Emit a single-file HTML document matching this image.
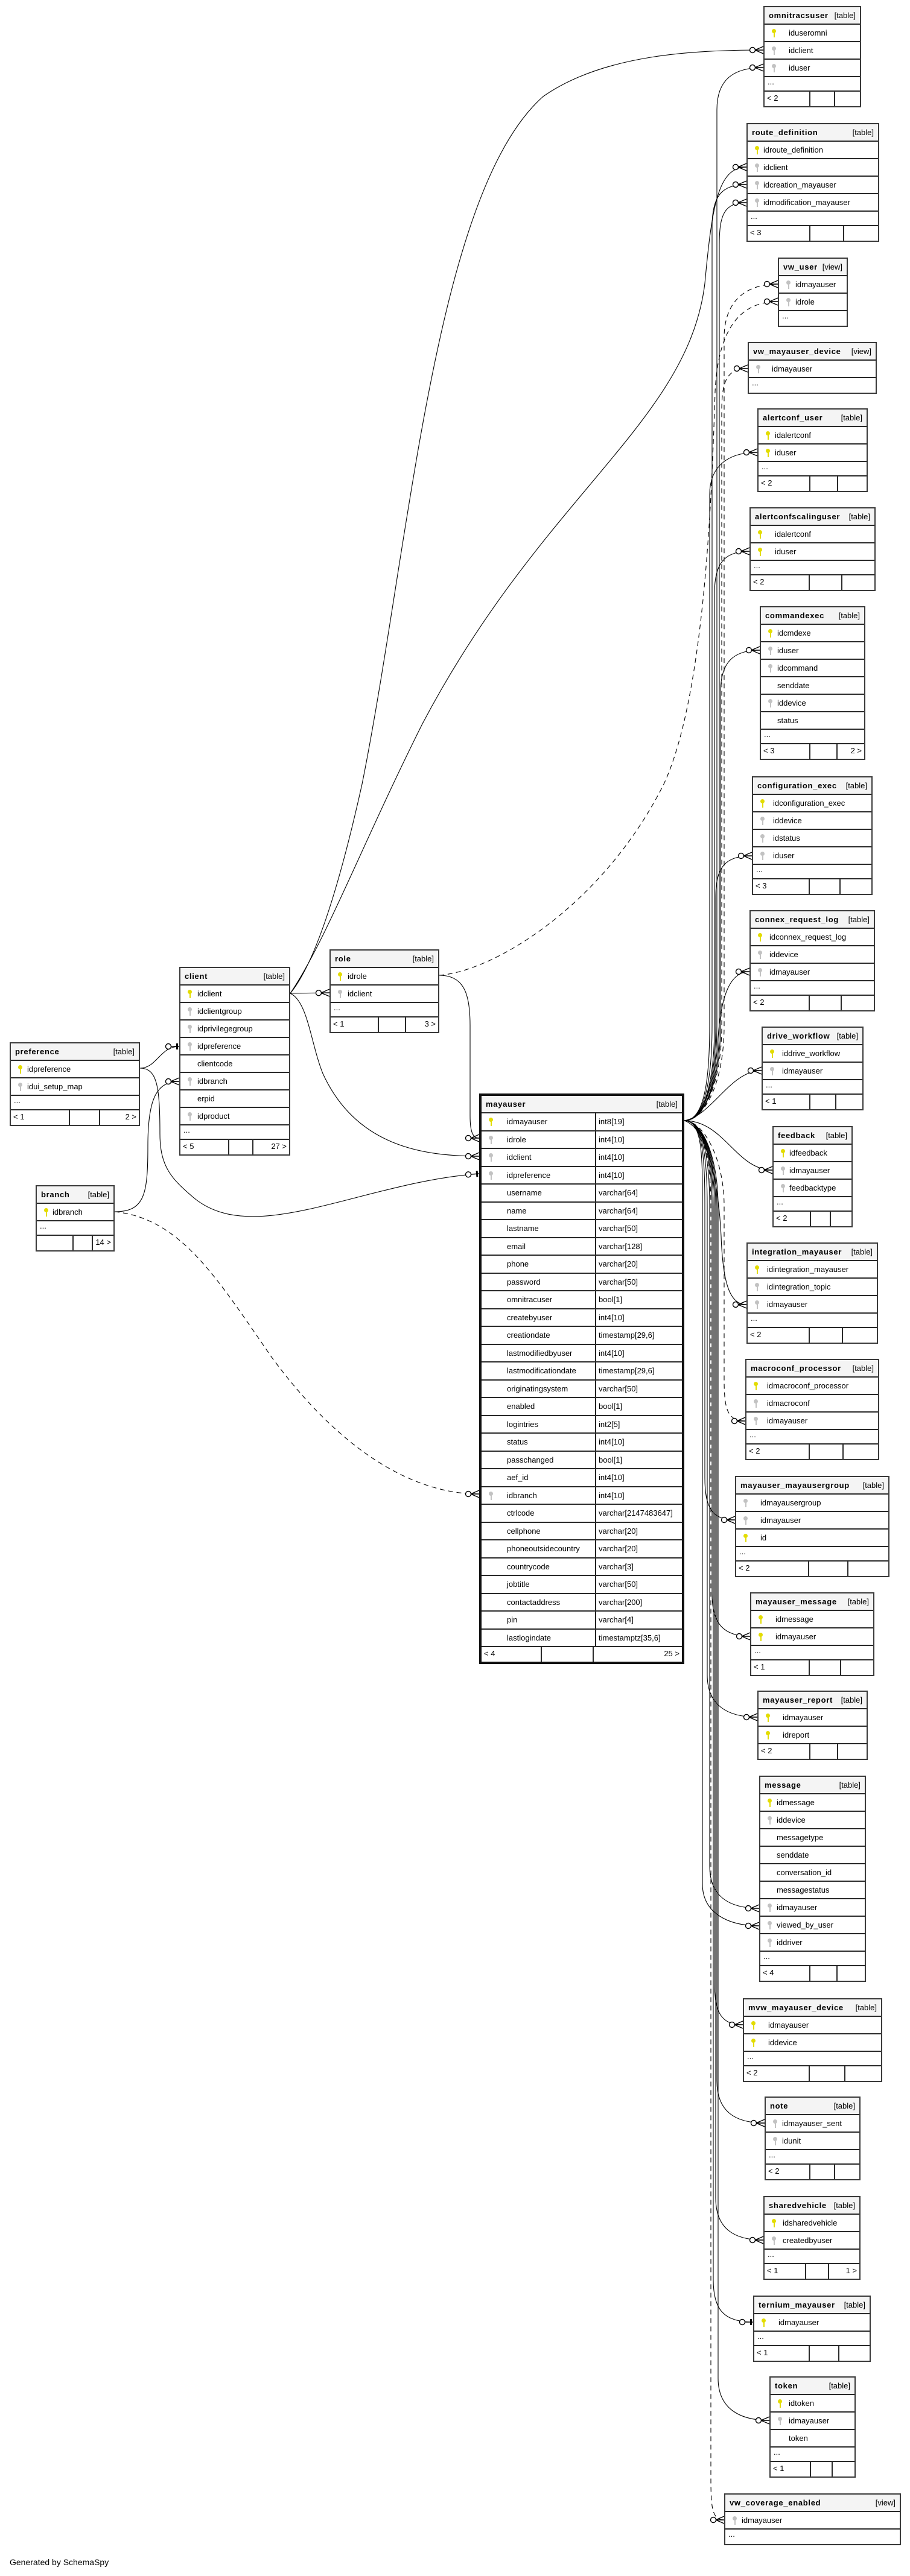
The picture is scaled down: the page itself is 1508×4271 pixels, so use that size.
<!DOCTYPE html>
<html><head><meta charset="utf-8">
<style>
html,body{margin:0;padding:0;background:#fff}
body{width:1508px;height:4271px;position:relative;overflow:hidden}
svg.ln{position:absolute;left:0;top:0}
.t{position:absolute;background:#fff;border:2px solid #3a3a3a;box-sizing:border-box;font:13px "Liberation Sans","DejaVu Sans",sans-serif;color:#000;z-index:2}
.t>div{box-sizing:border-box;border-bottom:2px solid #2a2a2a;position:relative;white-space:nowrap;overflow:hidden}
.t>div:last-child{border-bottom:none}
.h{height:29px;background:#f4f4f4;padding:0 7px;line-height:27px}
.h b{float:left;letter-spacing:.7px}
.h span{float:right}
.r{height:29px;line-height:27px;padding-left:var(--i,30px)}
.d{height:24px;line-height:16px;padding-left:5px}
.f{height:24px;display:flex;line-height:22px}
.f i{font-style:normal;border-right:2px solid #2a2a2a;padding:0 4px;box-sizing:border-box;width:48%}
.f i+i{width:26%}
.f i+i+i{border-right:none;flex:1;width:auto;text-align:right}
.k{position:absolute;left:12px;top:7px;width:7px;height:7px;border-radius:50%}
.k:after{content:"";position:absolute;left:2.5px;top:5px;width:2px;height:9px;background:inherit}
.p{background:#e3dc00}.g{background:#c2c2c2}
.m{border:4px solid #111}
.m .r{height:29.5px;padding-left:42px}
.m .r s{text-decoration:none;position:absolute;left:188px;top:0;bottom:0;border-left:2px solid #222;padding-left:4px}
.gen{position:absolute;left:16px;top:4240px;font:14px "Liberation Sans",sans-serif}
</style></head><body>

<svg class="ln" width="1508" height="4271" viewBox="0 0 1508 4271">
<defs>
<marker id="c" markerUnits="userSpaceOnUse" markerWidth="26" markerHeight="18" viewBox="0 -9 26 18" refX="24" refY="0" orient="auto">
<path d="M10,0 L24,0 M10,0 L24,-6 M10,0 L24,6" stroke="#000" stroke-width="1.4" fill="none"/>
<circle cx="6" cy="0" r="4.5" fill="#fff" stroke="#000" stroke-width="1.4"/>
</marker>
<marker id="o" markerUnits="userSpaceOnUse" markerWidth="26" markerHeight="18" viewBox="0 -9 26 18" refX="24" refY="0" orient="auto">
<path d="M10,0 L24,0" stroke="#000" stroke-width="1.4"/>
<rect x="19" y="-5" width="3" height="10" fill="#000"/>
<circle cx="6" cy="0" r="4.5" fill="#fff" stroke="#000" stroke-width="1.4"/>
</marker>
</defs>
<g fill="none" stroke="#000" stroke-width="1.1">
<path marker-end="url(#c)" d="M481,1647 C520,1600 560,1480 600,1300 C680,900 720,320 900,160 C1000,90 1150,83 1265,83"/>
<path marker-end="url(#c)" d="M481,1647 C540,1560 600,1400 700,1200 C900,820 1140,700 1168,470 C1180,340 1190,277 1237,277"/>
<path marker-end="url(#c)" d="M481,1647 L546,1646"/>
<path marker-end="url(#c)" d="M481,1647 C510,1660 515,1730 535,1780 C590,1900 700,1917 794,1917"/>
<path marker-end="url(#c)" d="M728,1617 C770,1617 779,1650 779,1700 L779,1850 C779,1878 784,1887 794,1887"/>
<path marker-end="url(#c)" stroke-dasharray="8,6" d="M728,1617 C820,1610 1000,1500 1100,1300 C1170,1150 1180,800 1185,650 C1190,540 1230,500 1289,500"/>
<path marker-end="url(#o)" d="M232,1771 C260,1771 265,1735 297,1735"/>
<path marker-end="url(#o)" d="M232,1771 C260,1771 265,1800 265,1880 C265,1935 285,1955 320,1985 C420,2070 600,1960 794,1946"/>
<path marker-end="url(#c)" d="M190,2009 C240,2009 245,1980 245,1900 C245,1820 260,1793 297,1793"/>
<path marker-end="url(#c)" stroke-dasharray="8,6" d="M190,2009 C300,2020 360,2120 450,2250 C560,2400 680,2477 794,2477"/>
<path marker-end="url(#c)" d="M1134,1858 C1165,1858 1188,1800 1188,1700 L1188,182 C1188,132 1215,112 1265,112"/>
<path marker-end="url(#c)" d="M1134,1858 C1165,1858 1180,1800 1180,1700 L1180,376 C1180,326 1195,306 1237,306"/>
<path marker-end="url(#c)" d="M1134,1858 C1165,1858 1192,1800 1192,1700 L1192,406 C1192,356 1200,336 1237,336"/>
<path marker-end="url(#c)" stroke-dasharray="8,6" d="M1134,1858 C1165,1858 1200,1800 1200,1700 L1200,560 C1200,500 1235,471 1289,471"/>
<path marker-end="url(#c)" stroke-dasharray="8,6" d="M1134,1858 C1165,1858 1196,1800 1196,1700 L1196,681 C1196,631 1205,611 1239,611"/>
<path marker-end="url(#c)" d="M1134,1858 C1165,1858 1176,1800 1176,1700 L1176,820 C1176,770 1210,750 1255,750"/>
<path marker-end="url(#c)" d="M1134,1858 C1165,1858 1184,1800 1184,1700 L1184,984 C1184,934 1200,914 1242,914"/>
<path marker-end="url(#c)" d="M1134,1858 C1165,1858 1194,1800 1194,1700 L1194,1148 C1194,1098 1215,1078 1259,1078"/>
<path marker-end="url(#c)" d="M1134,1858 C1165,1858 1186,1800 1186,1700 L1186,1489 C1186,1439 1200,1419 1246,1419"/>
<path marker-end="url(#c)" d="M1134,1858 C1170,1858 1185,1800 1190,1720 C1195,1650 1210,1611 1242,1611"/>
<path marker-end="url(#c)" d="M1134,1858 C1180,1850 1210,1775 1262,1775"/>
<path marker-end="url(#c)" d="M1134,1858 C1200,1858 1220,1940 1280,1940"/>
<path marker-end="url(#c)" d="M1134,1858 C1170,1870 1190,1950 1195,2050 C1198,2130 1210,2163 1237,2163"/>
<path marker-end="url(#c)" stroke-dasharray="8,6" d="M1134,1858 C1165,1858 1200,1920 1200,2000 L1200,2286 C1200,2336 1205,2356 1235,2356"/>
<path marker-end="url(#c)" d="M1134,1858 C1165,1858 1168,1920 1168,2000 L1168,2450 C1168,2500 1180,2520 1218,2520"/>
<path marker-end="url(#c)" d="M1134,1858 C1165,1858 1180,1920 1180,2000 L1180,2643 C1180,2693 1200,2713 1243,2713"/>
<path marker-end="url(#c)" d="M1134,1858 C1165,1858 1172,1920 1172,2000 L1172,2777 C1172,2827 1205,2847 1255,2847"/>
<path marker-end="url(#c)" d="M1134,1858 C1165,1858 1176,1920 1176,2000 L1176,3094 C1176,3144 1208,3164 1258,3164"/>
<path marker-end="url(#c)" d="M1134,1858 C1165,1858 1164,1920 1164,2000 L1164,3123 C1164,3173 1208,3193 1258,3193"/>
<path marker-end="url(#c)" d="M1134,1858 C1165,1858 1184,1920 1184,2000 L1184,3287 C1184,3337 1195,3357 1231,3357"/>
<path marker-end="url(#c)" d="M1134,1858 C1165,1858 1188,1920 1188,2000 L1188,3450 C1188,3500 1217,3520 1267,3520"/>
<path marker-end="url(#c)" d="M1134,1858 C1165,1858 1186,1920 1186,2000 L1186,3644 C1186,3694 1215,3714 1265,3714"/>
<path marker-end="url(#o)" d="M1134,1858 C1165,1858 1182,1920 1182,2000 L1182,3780 C1182,3830 1200,3850 1248,3850"/>
<path marker-end="url(#c)" d="M1134,1858 C1165,1858 1190,1920 1190,2000 L1190,3943 C1190,3993 1225,4013 1275,4013"/>
<path marker-end="url(#c)" stroke-dasharray="8,6" d="M1134,1858 C1165,1858 1178,1920 1178,2000 L1178,4108 C1178,4158 1180,4178 1200,4178"/>
</g>
</svg>

<div class="t" style="left:1265px;top:10px;width:162px;--i:40px"><div class="h"><b>omnitracsuser</b><span>[table]</span></div><div class="r"><i class="k p"></i>iduseromni</div><div class="r"><i class="k g"></i>idclient</div><div class="r"><i class="k g"></i>iduser</div><div class="d">...</div><div class="f"><i>&lt; 2</i><i></i><i></i></div></div>

<div class="t" style="left:1237px;top:204px;width:220px;--i:26px"><div class="h"><b>route_definition</b><span>[table]</span></div><div class="r"><i class="k p"></i>idroute_definition</div><div class="r"><i class="k g"></i>idclient</div><div class="r"><i class="k g"></i>idcreation_mayauser</div><div class="r"><i class="k g"></i>idmodification_mayauser</div><div class="d">...</div><div class="f"><i>&lt; 3</i><i></i><i></i></div></div>

<div class="t" style="left:1289px;top:427px;width:116px;--i:27px"><div class="h"><b>vw_user</b><span>[view]</span></div><div class="r"><i class="k g"></i>idmayauser</div><div class="r"><i class="k g"></i>idrole</div><div class="d">...</div></div>

<div class="t" style="left:1239px;top:567px;width:214px;--i:38px"><div class="h"><b>vw_mayauser_device</b><span>[view]</span></div><div class="r"><i class="k g"></i>idmayauser</div><div class="d">...</div></div>

<div class="t" style="left:1255px;top:677px;width:183px;--i:27px"><div class="h"><b>alertconf_user</b><span>[table]</span></div><div class="r"><i class="k p"></i>idalertconf</div><div class="r"><i class="k p"></i>iduser</div><div class="d">...</div><div class="f"><i>&lt; 2</i><i></i><i></i></div></div>

<div class="t" style="left:1242px;top:841px;width:209px;--i:40px"><div class="h"><b>alertconfscalinguser</b><span>[table]</span></div><div class="r"><i class="k p"></i>idalertconf</div><div class="r"><i class="k p"></i>iduser</div><div class="d">...</div><div class="f"><i>&lt; 2</i><i></i><i></i></div></div>

<div class="t" style="left:1259px;top:1005px;width:175px;--i:27px"><div class="h"><b>commandexec</b><span>[table]</span></div><div class="r"><i class="k p"></i>idcmdexe</div><div class="r"><i class="k g"></i>iduser</div><div class="r"><i class="k g"></i>idcommand</div><div class="r">senddate</div><div class="r"><i class="k g"></i>iddevice</div><div class="r">status</div><div class="d">...</div><div class="f"><i>&lt; 3</i><i></i><i>2 &gt;</i></div></div>

<div class="t" style="left:1246px;top:1287px;width:200px;--i:33px"><div class="h"><b>configuration_exec</b><span>[table]</span></div><div class="r"><i class="k p"></i>idconfiguration_exec</div><div class="r"><i class="k g"></i>iddevice</div><div class="r"><i class="k g"></i>idstatus</div><div class="r"><i class="k g"></i>iduser</div><div class="d">...</div><div class="f"><i>&lt; 3</i><i></i><i></i></div></div>

<div class="t" style="left:1242px;top:1509px;width:208px;--i:31px"><div class="h"><b>connex_request_log</b><span>[table]</span></div><div class="r"><i class="k p"></i>idconnex_request_log</div><div class="r"><i class="k g"></i>iddevice</div><div class="r"><i class="k g"></i>idmayauser</div><div class="d">...</div><div class="f"><i>&lt; 2</i><i></i><i></i></div></div>

<div class="t" style="left:1262px;top:1702px;width:169px;--i:32px"><div class="h"><b>drive_workflow</b><span>[table]</span></div><div class="r"><i class="k p"></i>iddrive_workflow</div><div class="r"><i class="k g"></i>idmayauser</div><div class="d">...</div><div class="f"><i>&lt; 1</i><i></i><i></i></div></div>

<div class="t" style="left:1280px;top:1867px;width:133px;--i:26px"><div class="h"><b>feedback</b><span>[table]</span></div><div class="r"><i class="k p"></i>idfeedback</div><div class="r"><i class="k g"></i>idmayauser</div><div class="r"><i class="k g"></i>feedbacktype</div><div class="d">...</div><div class="f"><i>&lt; 2</i><i></i><i></i></div></div>

<div class="t" style="left:1237px;top:2060px;width:218px;--i:32px"><div class="h"><b>integration_mayauser</b><span>[table]</span></div><div class="r"><i class="k p"></i>idintegration_mayauser</div><div class="r"><i class="k g"></i>idintegration_topic</div><div class="r"><i class="k g"></i>idmayauser</div><div class="d">...</div><div class="f"><i>&lt; 2</i><i></i><i></i></div></div>

<div class="t" style="left:1235px;top:2253px;width:222px;--i:34px"><div class="h"><b>macroconf_processor</b><span>[table]</span></div><div class="r"><i class="k p"></i>idmacroconf_processor</div><div class="r"><i class="k g"></i>idmacroconf</div><div class="r"><i class="k g"></i>idmayauser</div><div class="d">...</div><div class="f"><i>&lt; 2</i><i></i><i></i></div></div>

<div class="t" style="left:1218px;top:2447px;width:256px;--i:40px"><div class="h"><b>mayauser_mayausergroup</b><span>[table]</span></div><div class="r"><i class="k g"></i>idmayausergroup</div><div class="r"><i class="k g"></i>idmayauser</div><div class="r"><i class="k p"></i>id</div><div class="d">...</div><div class="f"><i>&lt; 2</i><i></i><i></i></div></div>

<div class="t" style="left:1243px;top:2640px;width:206px;--i:40px"><div class="h"><b>mayauser_message</b><span>[table]</span></div><div class="r"><i class="k p"></i>idmessage</div><div class="r"><i class="k p"></i>idmayauser</div><div class="d">...</div><div class="f"><i>&lt; 1</i><i></i><i></i></div></div>

<div class="t" style="left:1255px;top:2803px;width:183px;--i:40px"><div class="h"><b>mayauser_report</b><span>[table]</span></div><div class="r"><i class="k p"></i>idmayauser</div><div class="r"><i class="k p"></i>idreport</div><div class="f"><i>&lt; 2</i><i></i><i></i></div></div>

<div class="t" style="left:1258px;top:2944px;width:177px;--i:27px"><div class="h"><b>message</b><span>[table]</span></div><div class="r"><i class="k p"></i>idmessage</div><div class="r"><i class="k g"></i>iddevice</div><div class="r">messagetype</div><div class="r">senddate</div><div class="r">conversation_id</div><div class="r">messagestatus</div><div class="r"><i class="k g"></i>idmayauser</div><div class="r"><i class="k g"></i>viewed_by_user</div><div class="r"><i class="k g"></i>iddriver</div><div class="d">...</div><div class="f"><i>&lt; 4</i><i></i><i></i></div></div>

<div class="t" style="left:1231px;top:3313px;width:231px;--i:40px"><div class="h"><b>mvw_mayauser_device</b><span>[table]</span></div><div class="r"><i class="k p"></i>idmayauser</div><div class="r"><i class="k p"></i>iddevice</div><div class="d">...</div><div class="f"><i>&lt; 2</i><i></i><i></i></div></div>

<div class="t" style="left:1267px;top:3476px;width:159px;--i:27px"><div class="h"><b>note</b><span>[table]</span></div><div class="r"><i class="k g"></i>idmayauser_sent</div><div class="r"><i class="k g"></i>idunit</div><div class="d">...</div><div class="f"><i>&lt; 2</i><i></i><i></i></div></div>

<div class="t" style="left:1265px;top:3641px;width:161px;--i:30px"><div class="h"><b>sharedvehicle</b><span>[table]</span></div><div class="r"><i class="k p"></i>idsharedvehicle</div><div class="r"><i class="k g"></i>createdbyuser</div><div class="d">...</div><div class="f"><i style="width:44%">&lt; 1</i><i style="width:24%"></i><i>1 &gt;</i></div></div>

<div class="t" style="left:1248px;top:3806px;width:195px;--i:40px"><div class="h"><b>ternium_mayauser</b><span>[table]</span></div><div class="r"><i class="k p"></i>idmayauser</div><div class="d">...</div><div class="f"><i>&lt; 1</i><i></i><i></i></div></div>

<div class="t" style="left:1275px;top:3940px;width:143px;--i:30px"><div class="h"><b>token</b><span>[table]</span></div><div class="r"><i class="k p"></i>idtoken</div><div class="r"><i class="k g"></i>idmayauser</div><div class="r">token</div><div class="d">...</div><div class="f"><i>&lt; 1</i><i></i><i></i></div></div>

<div class="t" style="left:1200px;top:4134px;width:293px;--i:27px"><div class="h"><b>vw_coverage_enabled</b><span>[view]</span></div><div class="r"><i class="k g"></i>idmayauser</div><div class="d">...</div></div>

<div class="t" style="left:546px;top:1574px;width:182px;--i:28px"><div class="h"><b>role</b><span>[table]</span></div><div class="r"><i class="k p"></i>idrole</div><div class="r"><i class="k g"></i>idclient</div><div class="d">...</div><div class="f"><i style="width:45%">&lt; 1</i><i style="width:25%"></i><i>3 &gt;</i></div></div>

<div class="t" style="left:297px;top:1603px;width:184px;--i:28px"><div class="h"><b>client</b><span>[table]</span></div><div class="r"><i class="k p"></i>idclient</div><div class="r"><i class="k g"></i>idclientgroup</div><div class="r"><i class="k g"></i>idprivilegegroup</div><div class="r"><i class="k g"></i>idpreference</div><div class="r">clientcode</div><div class="r"><i class="k g"></i>idbranch</div><div class="r">erpid</div><div class="r"><i class="k g"></i>idproduct</div><div class="d">...</div><div class="f"><i style="width:45%">&lt; 5</i><i style="width:22%"></i><i>27 &gt;</i></div></div>

<div class="t" style="left:16px;top:1728px;width:216px;--i:27px"><div class="h"><b>preference</b><span>[table]</span></div><div class="r"><i class="k p"></i>idpreference</div><div class="r"><i class="k g"></i>idui_setup_map</div><div class="d">...</div><div class="f"><i style="width:46%">&lt; 1</i><i style="width:24%"></i><i>2 &gt;</i></div></div>

<div class="t" style="left:59px;top:1965px;width:131px;--i:26px"><div class="h"><b>branch</b><span>[table]</span></div><div class="r"><i class="k p"></i>idbranch</div><div class="d">...</div><div class="f"><i></i><i></i><i>14 &gt;</i></div></div>

<div class="t m" style="left:794px;top:1813px;width:340px"><div class="h"><b>mayauser</b><span>[table]</span></div>
<div class="r"><i class="k p"></i>idmayauser<s>int8[19]</s></div>
<div class="r"><i class="k g"></i>idrole<s>int4[10]</s></div>
<div class="r"><i class="k g"></i>idclient<s>int4[10]</s></div>
<div class="r"><i class="k g"></i>idpreference<s>int4[10]</s></div>
<div class="r">username<s>varchar[64]</s></div>
<div class="r">name<s>varchar[64]</s></div>
<div class="r">lastname<s>varchar[50]</s></div>
<div class="r">email<s>varchar[128]</s></div>
<div class="r">phone<s>varchar[20]</s></div>
<div class="r">password<s>varchar[50]</s></div>
<div class="r">omnitracuser<s>bool[1]</s></div>
<div class="r">createbyuser<s>int4[10]</s></div>
<div class="r">creationdate<s>timestamp[29,6]</s></div>
<div class="r">lastmodifiedbyuser<s>int4[10]</s></div>
<div class="r">lastmodificationdate<s>timestamp[29,6]</s></div>
<div class="r">originatingsystem<s>varchar[50]</s></div>
<div class="r">enabled<s>bool[1]</s></div>
<div class="r">logintries<s>int2[5]</s></div>
<div class="r">status<s>int4[10]</s></div>
<div class="r">passchanged<s>bool[1]</s></div>
<div class="r">aef_id<s>int4[10]</s></div>
<div class="r"><i class="k g"></i>idbranch<s>int4[10]</s></div>
<div class="r">ctrlcode<s>varchar[2147483647]</s></div>
<div class="r">cellphone<s>varchar[20]</s></div>
<div class="r">phoneoutsidecountry<s>varchar[20]</s></div>
<div class="r">countrycode<s>varchar[3]</s></div>
<div class="r">jobtitle<s>varchar[50]</s></div>
<div class="r">contactaddress<s>varchar[200]</s></div>
<div class="r">pin<s>varchar[4]</s></div>
<div class="r">lastlogindate<s>timestamptz[35,6]</s></div>
<div class="f"><i style="width:30%">&lt; 4</i><i style="width:26%"></i><i>25 &gt;</i></div></div>

<div class="gen">Generated by SchemaSpy</div>
</body></html>
